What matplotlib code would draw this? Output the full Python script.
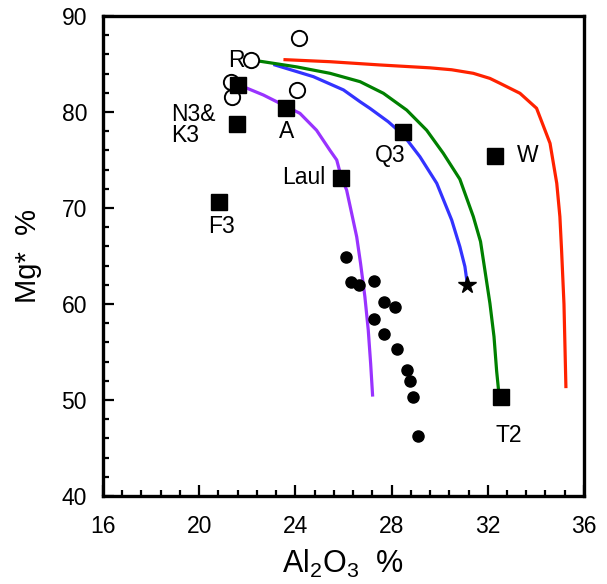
import matplotlib
matplotlib.use("Agg")
import matplotlib.pyplot as plt
from matplotlib.ticker import MultipleLocator

plt.rcParams['font.family'] = ['Liberation Sans', 'DejaVu Sans']
plt.rcParams['mathtext.fontset'] = 'custom'
plt.rcParams['mathtext.rm'] = 'Liberation Sans'
plt.rcParams['mathtext.it'] = 'Liberation Sans'

# Curves
purple_x = [21.6, 21.83, 22.67, 23.36, 24.19, 24.88, 25.44, 25.72, 25.91, 26.13, 26.34,
            26.55, 26.71, 26.89, 27.03, 27.13, 27.21]
purple_y = [82.8, 82.64, 81.77, 80.9, 79.86, 78.1, 76.0, 75.0, 73.2, 71.88, 69.45,
            67.0, 64.24, 60.76, 57.3, 53.8, 50.52]
blue_x = [23.15, 24.75, 26.0, 26.69, 27.1, 27.86, 28.49, 29.18, 29.88, 30.5, 30.84, 31.05, 31.15]
blue_y = [84.9, 83.68, 82.3, 81.07, 80.38, 78.99, 77.6, 75.34, 72.57, 68.75, 65.97, 63.9, 62.1]
green_x = [22.24, 24.05, 25.44, 26.69, 27.66, 28.63, 29.46, 30.15, 30.84, 31.4, 31.7,
           31.88, 32.09, 32.26, 32.37, 32.45]
green_y = [85.4, 84.7, 84.03, 83.16, 81.95, 80.2, 78.1, 75.7, 73.0, 69.1, 66.5,
           63.54, 60.07, 56.6, 53.0, 51.0]
red_x = [23.57, 25.44, 27.52, 29.6, 30.5, 31.4, 32.09, 32.5, 33.34, 34.03, 34.59,
         34.87, 35.0, 35.07, 35.17, 35.25]
red_y = [85.45, 85.24, 84.9, 84.6, 84.4, 84.03, 83.5, 83.0, 81.95, 80.39, 76.74,
         72.57, 69.1, 65.6, 60.0, 51.4]

# Labelled squares
sq_names = ["R", "N3&\nK3", "F3", "A", "Laul", "Q3", "W", "T2"]
sq_x = [21.6, 21.57, 20.82, 23.59, 25.91, 28.49, 32.3, 32.55]
sq_y = [82.8, 78.75, 70.6, 80.4, 73.1, 77.95, 75.45, 50.3]

# Open circles
oc_x = [24.16, 22.17, 21.31, 21.38, 24.05]
oc_y = [87.76, 85.42, 83.16, 81.6, 82.26]

# Star
star_x = [31.15]
star_y = [61.95]

# Filled dots
dot_x = [26.1, 26.3, 26.66, 27.27, 27.7, 28.15, 27.27, 27.7, 28.21, 28.65, 28.77, 28.88, 29.1]
dot_y = [64.93, 62.3, 61.98, 62.43, 60.2, 59.65, 58.4, 56.88, 55.31, 53.13, 52.01, 50.35, 46.2]

fig = plt.figure(figsize=(6.07, 5.84), dpi=100)
ax = fig.add_axes([0.1697, 0.1507, 0.7923, 0.8219])

lw = 2.3
ax.plot(purple_x, purple_y, color='#9933ff', lw=lw, zorder=2)
ax.plot(blue_x, blue_y, color='#3333ff', lw=lw, zorder=2)
ax.plot(green_x, green_y, color='#008000', lw=lw, zorder=2)
ax.plot(red_x, red_y, color='#ff2200', lw=lw, zorder=2)

ax.plot(oc_x, oc_y, linestyle='none', marker='o', markersize=11,
        mfc='white', mec='black', mew=1.4, zorder=3)
ax.plot(sq_x, sq_y, linestyle='none', marker='s', markersize=11.3,
        color='black', zorder=4)
ax.plot(dot_x, dot_y, linestyle='none', marker='o', markersize=8,
        color='black', zorder=4)
ax.plot(star_x, star_y, linestyle='none', marker='*', markersize=13,
        color='black', zorder=4)

fs = 16.5
# label anchor: (x, y, ha)
label_pos = [(21.53, 85.4, 'center'), (18.82, 78.65, 'left'), (20.92, 68.1, 'center'),
             (23.64, 78.0, 'center'), (25.24, 73.2, 'right'), (27.95, 75.44, 'center'),
             (33.2, 75.5, 'left'), (32.88, 46.35, 'center')]
for name, (lx, ly, ha) in zip(sq_names, label_pos):
    ax.text(lx, ly, name, fontsize=fs, ha=ha, va='center', linespacing=0.85)

ax.set_xlim(16, 36)
ax.set_ylim(40, 90)
ax.xaxis.set_major_locator(MultipleLocator(4))
ax.xaxis.set_minor_locator(MultipleLocator(0.8))
ax.yaxis.set_major_locator(MultipleLocator(10))
ax.yaxis.set_minor_locator(MultipleLocator(2))
ax.tick_params(which='both', direction='in', top=False, right=False, width=1.6)
ax.tick_params(which='major', length=8, labelsize=16.5)
ax.tick_params(axis='x', which='major', pad=14)
ax.tick_params(axis='y', which='major', pad=11.5)
ax.tick_params(which='minor', length=4.5)
for s in ax.spines.values():
    s.set_linewidth(2.4)

ax.set_xlabel("Al$_2$O$_3$  %", fontsize=22, labelpad=7)
ax.set_ylabel("Mg*  %", fontsize=21, labelpad=14)

fig.savefig("out.png", dpi=100)
